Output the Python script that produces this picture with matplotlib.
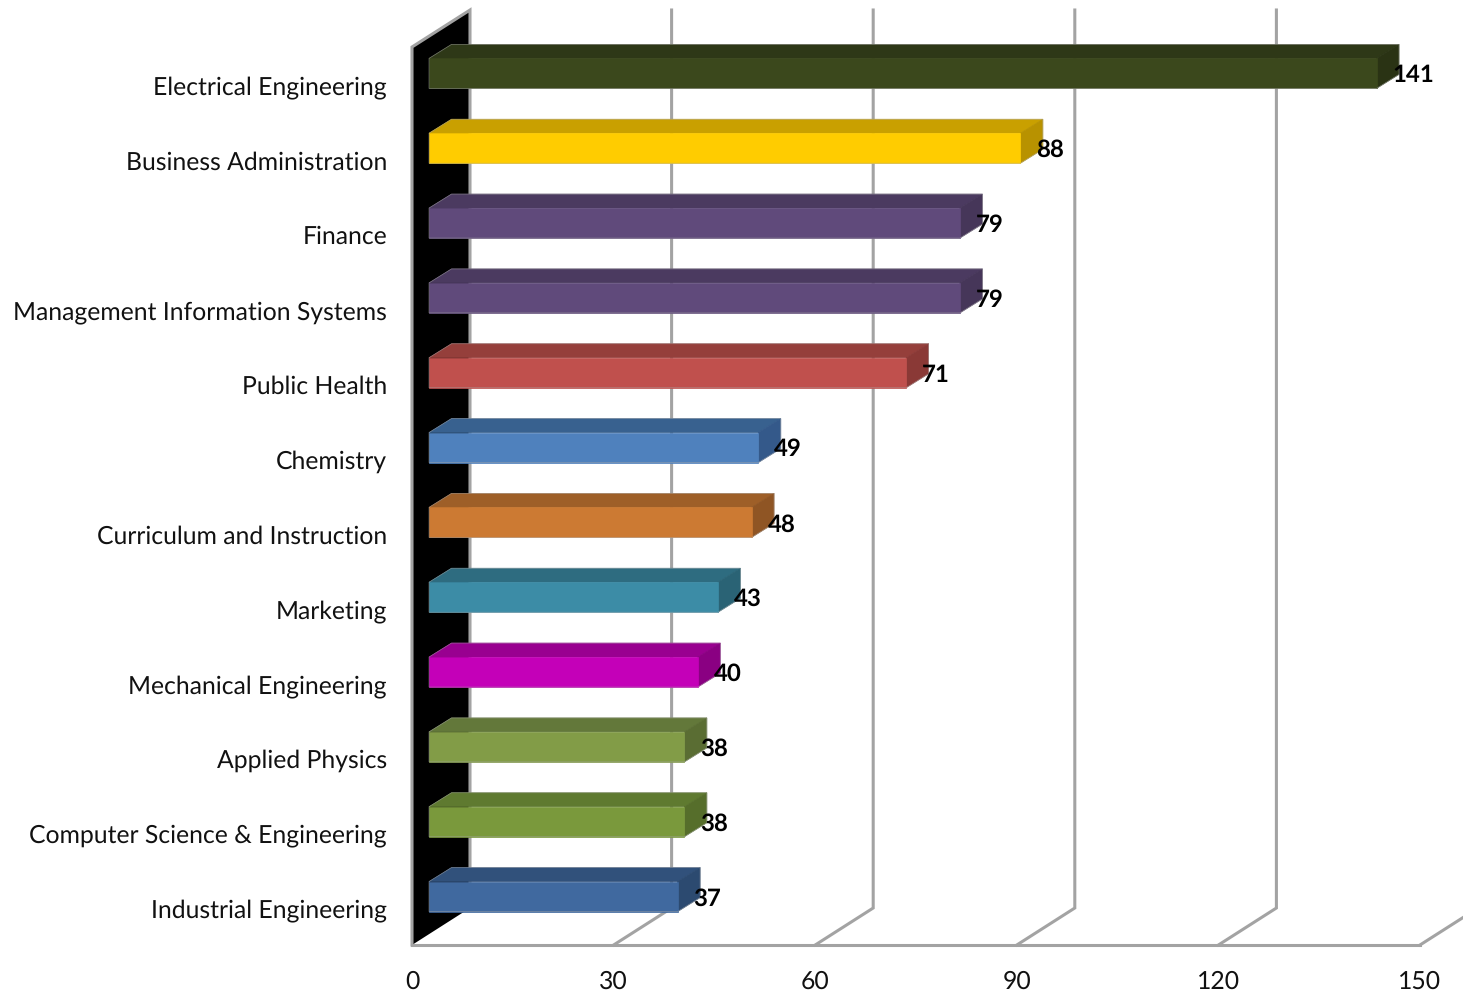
import matplotlib
matplotlib.use("Agg")
import matplotlib.pyplot as plt
from matplotlib.patches import Polygon

plt.rcParams['font.family'] = ['Lato', 'DejaVu Sans']
plt.rcParams['text.hinting'] = 'no_hinting'
plt.rcParams['text.hinting_factor'] = 8

categories = ["Electrical Engineering", "Business Administration", "Finance",
              "Management Information Systems", "Public Health", "Chemistry",
              "Curriculum and Instruction", "Marketing", "Mechanical Engineering",
              "Applied Physics", "Computer Science & Engineering", "Industrial Engineering"]
values = [141, 88, 79, 79, 71, 49, 48, 43, 40, 38, 38, 37]
x_ticks = [0, 30, 60, 90, 120, 150]

front_colors = ["#3B481C", "#FFCC00", "#604A7B", "#604A7B", "#C0504D", "#4F81BD",
                "#CC7A33", "#3C8CA6", "#C400B8", "#829C47", "#7A993C", "#40699F"]
top_colors = ["#2E3817", "#C9A000", "#4B3A60", "#4B3A60", "#953F3B", "#38618F",
              "#9E5F28", "#2E6C80", "#990090", "#63783A", "#5F7A30", "#31517B"]
side_colors = ["#2A3314", "#B89200", "#463659", "#463659", "#8A3936", "#34598A",
               "#8F5524", "#2A6375", "#8A0082", "#5A6D33", "#566E2B", "#2C4A70"]

W, H = 1463, 994
fig = plt.figure(figsize=(W / 100, H / 100), dpi=100, facecolor="white")
ax = fig.add_axes([412 / W, (H - 945) / H, (1420 - 412) / W, (945 - 47) / H])
ax.set_xlim(0, 150)
ax.set_ylim(0, 12)
for s in ax.spines.values():
    s.set_visible(False)

ux = 150 / (1420 - 412)   # data units per pixel
uy = 12 / (945 - 47)
depth_x, depth_y = 58 * ux, 37 * uy
bar_x, bar_y = 17 * ux, 11 * uy
bar_dx, bar_dy = 22.5 * ux, 14 * uy
half_h = 15 * uy
GRID = "#A3A3A3"
y_top = 12

# side wall
ax.add_patch(Polygon([(0, 0), (depth_x, depth_y), (depth_x, y_top + depth_y), (0, y_top)],
                     closed=True, facecolor="black", edgecolor="none", zorder=2, clip_on=False))
ax.plot([0, 0, depth_x, depth_x], [0, y_top, y_top + depth_y, depth_y], color=GRID, lw=2.2,
        zorder=3, clip_on=False, solid_joinstyle="miter")
ax.plot([0, 150], [0, 0], color=GRID, lw=2.2, zorder=3, clip_on=False)

# grid lines on the floor and back wall
for t in x_ticks[1:]:
    ax.plot([t, t + depth_x, t + depth_x], [0, depth_y, y_top + depth_y], color=GRID, lw=2.2,
            zorder=1, clip_on=False, solid_joinstyle="miter")

n = len(categories)
centers = [n - 1 - i + 0.5 for i in range(n)]
for c, v, fc, tc, sc in zip(centers, values, front_colors, top_colors, side_colors):
    x0, x1 = bar_x, bar_x + v
    y0, y1 = c + bar_y - half_h, c + bar_y + half_h
    ax.add_patch(Polygon([(x0, y1), (x1, y1), (x1 + bar_dx, y1 + bar_dy), (x0 + bar_dx, y1 + bar_dy)],
                         closed=True, facecolor=tc, edgecolor=tc, linewidth=0.5, zorder=4, clip_on=False))
    ax.add_patch(Polygon([(x1, y0), (x1 + bar_dx, y0 + bar_dy), (x1 + bar_dx, y1 + bar_dy), (x1, y1)],
                         closed=True, facecolor=sc, edgecolor=sc, linewidth=0.5, zorder=4, clip_on=False))
    ax.add_patch(Polygon([(x0, y0), (x1, y0), (x1, y1), (x0, y1)],
                         closed=True, facecolor=fc, edgecolor=fc, linewidth=0.5, zorder=4, clip_on=False))
    # faint grey outline of the whole box
    ax.add_patch(Polygon([(x0, y0), (x1, y0), (x1 + bar_dx, y0 + bar_dy), (x1 + bar_dx, y1 + bar_dy),
                          (x0 + bar_dx, y1 + bar_dy), (x0, y1)],
                         closed=True, facecolor="none", edgecolor="#A8A8A8", linewidth=0.5, alpha=0.6,
                         zorder=5, clip_on=False))
    ax.text(x1 + 16 * ux, c + bar_y - 2 * uy, str(v), ha="left", va="center", fontsize=17.3,
            fontweight="bold", color="black", zorder=6, clip_on=False)

ax.set_yticks([c - 1 * uy for c in centers])
ax.set_yticklabels(categories, fontsize=17.8, color="#111111")
ax.set_xticks(x_ticks)
ax.set_xticklabels([str(t) for t in x_ticks], fontsize=17.8, color="#111111")
ax.tick_params(axis="y", length=0, pad=18)
ax.tick_params(axis="x", length=0, pad=18.5)

fig.savefig("out.png", dpi=100, facecolor="white")
